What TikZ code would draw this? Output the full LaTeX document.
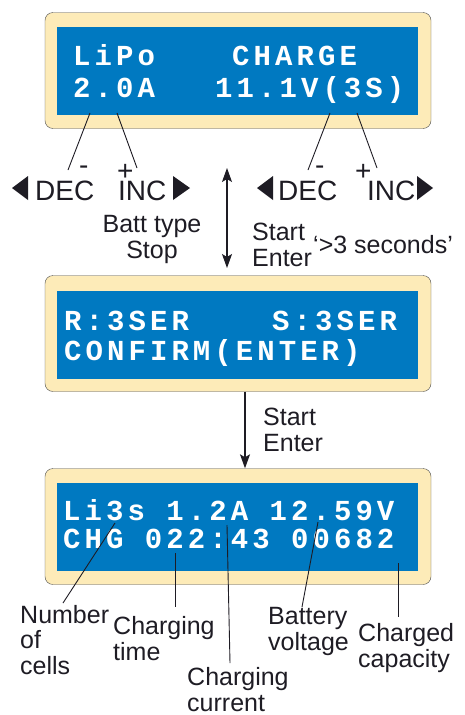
\documentclass[tikz,border=0pt]{standalone}
\usepackage{fontspec}
\setmainfont{Liberation Sans}
\newfontfamily\lcdfont{Liberation Mono}[LetterSpace=14]
\usetikzlibrary{arrows.meta}
\definecolor{lcdblue}{RGB}{0,121,193}
\definecolor{bezel}{RGB}{253,235,184}
\definecolor{ink}{RGB}{30,28,36}

\begin{document}
\begin{tikzpicture}[x=1pt,y=-1pt,
  >={Stealth[length=14pt,width=10pt,inset=3pt]},
  bezelbox/.style={rectangle, rounded corners=8pt, draw=black!70, fill=bezel, minimum width=386pt, minimum height=116pt},
  screen/.style={rectangle, fill=lcdblue, minimum width=361pt, minimum height=88pt},
  lcdtext/.style={text=white, font=\lcdfont\bfseries\fontsize{29}{29}\selectfont, inner sep=0pt, anchor=base west},
  keytext/.style={text=ink, font=\fontsize{28}{30}\selectfont, inner sep=0pt, anchor=base west},
  note/.style={text=ink, font=\fontsize{25}{25.5}\selectfont, inner sep=0pt, align=left, anchor=base west},
  pointer/.style={draw=ink, line width=0.9pt},
  flow/.style={draw=ink, line width=1.1pt}]
\useasboundingbox (0,0) rectangle (465,715);

% first screen
\node[bezelbox](bz1) at (238,70.5) {};
\node[screen](lcd1) at (237.5,71) {};
\node[lcdtext](lipo) at (73,65) {LiPo};
\node[lcdtext](charge) at (232,65) {CHARGE};
\node[lcdtext](amps) at (73,97) {2.0A};
\node[lcdtext](volts) at (215,97) {11.1V(3S)};

% keys
\node[keytext](dec1) at (35,200) {DEC};
\node[keytext](inc1) at (118,200) {INC};
\node[keytext](minus1) at (79,174) {-};
\node[keytext](plus1) at (117,180) {+};
\node[keytext](dec2) at (278,200) {DEC};
\node[keytext](inc2) at (367,200) {INC};
\node[keytext](minus2) at (315,174) {-};
\node[keytext](plus2) at (355,180) {+};
\fill[ink] (12,188) -- (28,176) -- (28,200) -- cycle;
\fill[ink] (190,188) -- (173,176) -- (173,200) -- cycle;
\fill[ink] (257,188) -- (273,176) -- (273,200) -- cycle;
\fill[ink] (433,188) -- (417,176) -- (417,200) -- cycle;

\coordinate (a1) at (90,113);
\coordinate (a2) at (68,170);
\coordinate (b1) at (117,113);
\coordinate (b2) at (137,168);
\coordinate (c1) at (330,113);
\coordinate (c2) at (308,170);
\coordinate (d1) at (357,113);
\coordinate (d2) at (377,168);
\draw[pointer] (a1)--(a2);
\draw[pointer] (b1)--(b2);
\draw[pointer] (c1)--(c2);
\draw[pointer] (d1)--(d2);

% between first and second screen
\coordinate (up) at (227,168);
\coordinate (dn) at (227,268);
\draw[flow, <->] (up)--(dn);
\node[note, align=center, anchor=base](batt) at (152,258) {Batt type\\Stop};
\node[note](start1) at (252,266) {Start\\Enter};
\node[note](secs) at (313,253) {‘>3 seconds’};

% second screen
\node[bezelbox](bz2) at (238,333.5) {};
\node[screen](lcd2) at (237.5,335) {};
\node[lcdtext](rser) at (64,330) {R:3SER};
\node[lcdtext](sser) at (272,330) {S:3SER};
\node[lcdtext](confirm) at (64,360) {CONFIRM(ENTER)};

% third screen
\node[bezelbox](bz3) at (238,526.5) {};
\node[screen](lcd3) at (237.5,526.5) {};
\node[lcdtext](row1) at (63,520) {Li3s 1.2A 12.59V};
\node[lcdtext](row2) at (63,548) {CHG 022:43 00682};

\coordinate (s2) at (245,392);
\draw[flow, ->] (bz2.south -| s2)--(bz3.north -| s2);
\node[note](start2) at (263,451) {Start\\Enter};

\node[note](cells) at (20,674) {Number\\of\\cells};
\node[note](ctime) at (113,660) {Charging\\time};
\node[note](ccur) at (187,711) {Charging\\current};
\node[note](bvolt) at (268,650) {Battery\\voltage};
\node[note](ccap) at (358,667) {Charged\\capacity};

\coordinate (e1) at (115,523);
\coordinate (e2) at (63,603);
\coordinate (f1) at (175,553);
\coordinate (f2) at (175,607);
\coordinate (g1) at (227,525);
\coordinate (g2) at (230,663);
\coordinate (h1) at (318,522);
\coordinate (h2) at (302,607);
\coordinate (k1) at (398,563);
\coordinate (k2) at (398,617);
\draw[pointer] (e1)--(e2);
\draw[pointer] (f1)--(f2);
\draw[pointer] (g1)--(g2);
\draw[pointer] (h1)--(h2);
\draw[pointer] (k1)--(k2);
\end{tikzpicture}
\end{document}
